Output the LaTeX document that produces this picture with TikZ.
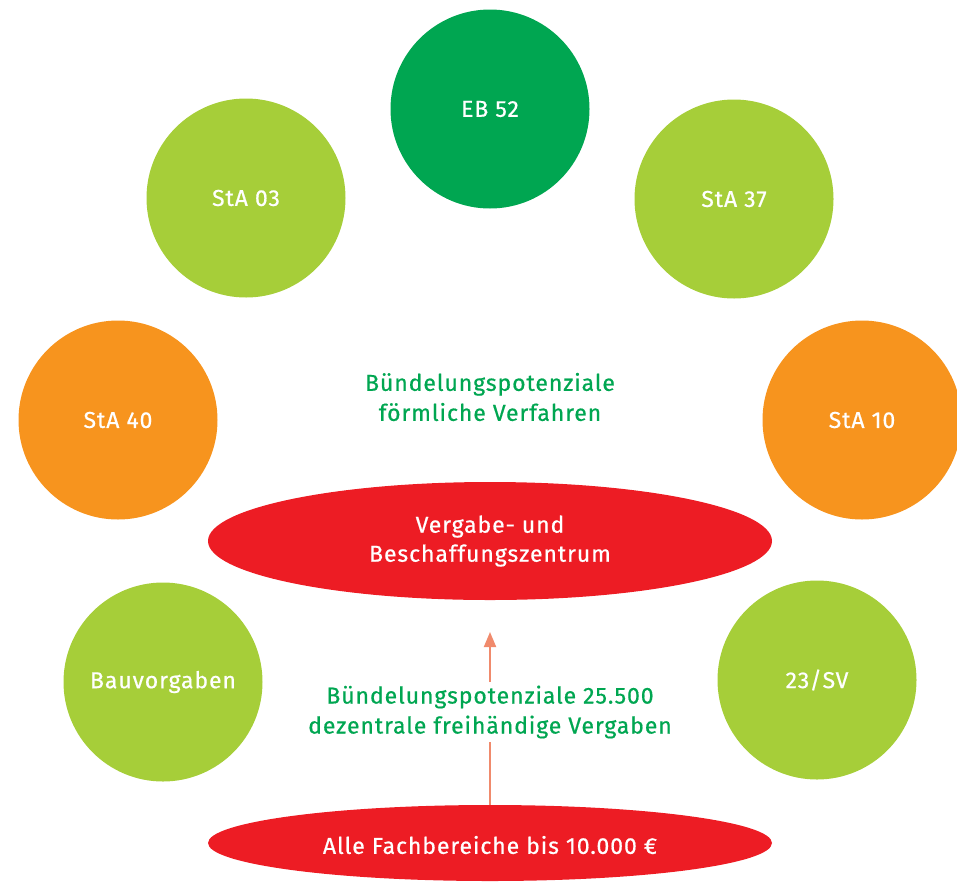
\documentclass[tikz,border=0pt]{standalone}
\usepackage{fontspec}
\setmainfont{Fira Sans}[LetterSpace=4, FakeBold=0.6]
\usetikzlibrary{arrows.meta}
\definecolor{dgreen}{HTML}{00A651}
\definecolor{lgreen}{HTML}{A6CE39}
\definecolor{orng}{HTML}{F7941E}
\definecolor{rred}{HTML}{ED1C24}
\definecolor{salmon}{HTML}{F08A6C}
\tikzset{
  bubble/.style={circle, minimum size=199pt, inner sep=0pt, text=white, font=\fontsize{23pt}{26pt}\selectfont},
  oval/.style={fill=rred, text=white, align=center, font=\fontsize{23pt}{29pt}\selectfont},
  gtext/.style={text=dgreen, align=center, font=\fontsize{23pt}{30pt}\selectfont},
  arr/.style={draw=salmon, line width=2pt},
}
\begin{document}
\begin{tikzpicture}[x=1pt,y=-1pt]
\useasboundingbox (0,0) rectangle (957,881);
\node[bubble, fill=dgreen] (eb) at (490,109) {EB 52};
\node[bubble, fill=lgreen] (s03) at (246,198) {StA 03};
\node[bubble, fill=lgreen] (s37) at (734,199) {StA 37};
\node[bubble, fill=orng] (s40) at (118,420) {StA 40};
\node[bubble, fill=orng] (s10) at (862,420) {StA 10};
\node[bubble, fill=lgreen] (bau) at (163,682) {Bauvorgaben};
\node[bubble, fill=lgreen] (sv) at (817,680) {23/SV};
\node[gtext] (top) at (490,397) {Bündelungspotenziale\\förmliche Verfahren};
\fill[rred] (490,541) ellipse [x radius=282, y radius=59];
\node[oval] (vbz) at (490,541) {Vergabe- und\\Beschaffungszentrum};
\fill[rred] (490,843) ellipse [x radius=282, y radius=38];
\node[oval] (alle) at (490,845) {Alle Fachbereiche bis 10.000 €};
\node[gtext] (mid) at (490,712) {Bündelungspotenziale 25.500\\dezentrale freihändige Vergaben};
\coordinate (alletop) at (490,805);
\coordinate (vbzbot) at (490,632);
\draw[arr] (alletop) -- (mid.south);
\draw[arr, -{Triangle[length=15pt,width=12pt]}] (mid.north) -- (vbzbot);
\end{tikzpicture}
\end{document}
